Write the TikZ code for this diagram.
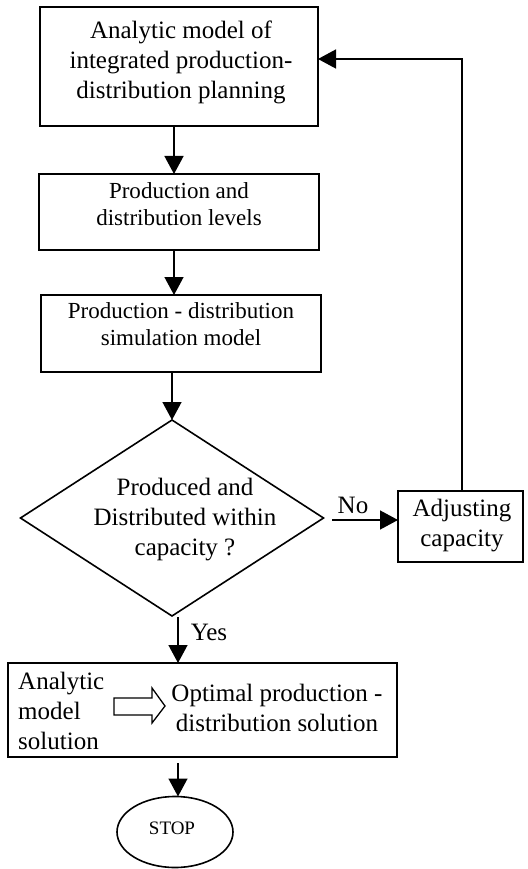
\documentclass[tikz,border=0pt]{standalone}
\usepackage{fontspec}
\setmainfont{Liberation Serif}
\usetikzlibrary{shapes.geometric,arrows.meta,calc}
\begin{document}
\begin{tikzpicture}[x=1pt,y=-1pt,
  box/.style={draw,line width=1.6pt,inner sep=0pt,outer sep=0pt},
  big/.style={font=\fontsize{25}{30}\selectfont,align=center,inner sep=0pt},
  mid/.style={font=\fontsize{23}{27}\selectfont,align=center,inner sep=0pt},
  conn/.style={line width=1.4pt,-{Triangle[width=19pt,length=18pt]}},
]
\useasboundingbox (0,0) rectangle (527,869);
% boxes
\node[box,minimum width=278pt,minimum height=119pt] (b1) at (179,66.5) {};
\node[big] (t1) at (181,62.5) {Analytic model of\\integrated production-\\distribution planning};
\node[box,minimum width=280pt,minimum height=76pt] (b2) at (179,212) {};
\node[mid] (t2) at (179,204) {Production and\\distribution levels};
\node[box,minimum width=280pt,minimum height=77pt] (b3) at (181,333.5) {};
\node[mid] (t3) at (181,324) {Production - distribution\\simulation model};
\node[box,shape=diamond,minimum width=303pt,minimum height=196pt] (dia) at (172,518) {};
\node[big] (td) at (185,520) {Produced and\\Distributed within\\capacity ?};
\node[box,minimum width=125pt,minimum height=71pt] (adj) at (460.5,526.5) {};
\node[big] (ta) at (462,525.5) {Adjusting\\capacity};
\node[box,minimum width=389pt,minimum height=94pt] (b5) at (202.5,710) {};
\node[big,align=left,anchor=west] (t5a) at (18,711) {Analytic\\model\\solution};
\node[big] (t5b) at (277,707.5) {Optimal production -\\distribution solution};
\node[box,shape=ellipse,minimum width=116pt,minimum height=71pt] (stop) at (175,832) {};
\node[font=\fontsize{19}{22}\selectfont,inner sep=0pt] (ts) at (172,828) {STOP};
% labels
\node[big] (no) at (353,505) {No};
\node[big] (yes) at (209,632) {Yes};
% hollow arrow inside final box
\draw[line width=1.3pt] (114,698) -- (152,698) -- (152,688) -- (165,706) -- (152,723) -- (152,715) -- (114,715) -- cycle;
% connectors
\draw[conn] ([xshift=-5pt]b1.south) -- ([xshift=-5pt]b2.north);
\draw[conn] ([xshift=-5pt]b2.south) -- ([xshift=-5pt]b2.south |- b3.north);
\draw[conn] (b3.south -| dia.north) -- (dia.north);
\coordinate (nostart) at (332,520);
\draw[conn] (nostart) -- (nostart -| adj.west);
\draw[conn] ([xshift=1.5pt]adj.north) |- ([yshift=7.5pt]b1.east);
\coordinate (yesstart) at (178,617);
\draw[conn] (yesstart) -- (yesstart |- b5.north);
\coordinate (endstart) at (178,763);
\draw[conn] (endstart) -- (endstart |- stop.north);
\end{tikzpicture}
\end{document}
